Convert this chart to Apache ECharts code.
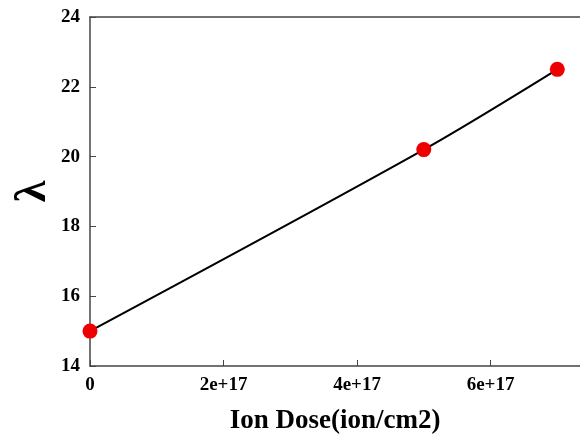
<!DOCTYPE html>
<html>
<head>
<meta charset="utf-8">
<script src="https://cdn.jsdelivr.net/npm/echarts@6/dist/echarts.min.js"></script>
<style>
  html, body { margin: 0; padding: 0; background: #fff; }
  #main { width: 580px; height: 439px; }
</style>
</head>
<body>
<div id="main"></div>
<script>
var doses = [0, 5e17, 7e17];
var lambdas = [15.0, 20.2, 22.5];
var xTicks = ['0', '2e+17', '4e+17', '6e+17'];

var chartDom = document.getElementById('main');
var myChart = echarts.init(chartDom);
var font = 'Liberation Serif';
var axisColor = '#444';

var points = doses.map(function (d, i) { return [d, lambdas[i]]; });

var option = {
  animation: false,
  grid: { left: 90, top: 17, right: 0, bottom: 73, containLabel: false, outerBoundsMode: 'none' },
  xAxis: [
    {
      type: 'value',
      min: 0,
      max: 7.34e17,
      interval: 2e17,
      name: 'Ion Dose(ion/cm2)',
      nameLocation: 'middle',
      nameGap: 42,
      nameTextStyle: { fontFamily: font, fontWeight: 'bold', fontSize: 27, color: '#000' },
      axisLine: { lineStyle: { color: axisColor, width: 1.5 } },
      axisTick: { inside: true, length: 6, lineStyle: { color: axisColor } },
      splitLine: { show: false },
      axisLabel: {
        margin: 10,
        showMaxLabel: false,
        fontFamily: font, fontWeight: 'bold', fontSize: 19, color: '#000',
        formatter: function (v) {
          var idx = Math.round(v / 2e17);
          return xTicks[idx] || '';
        }
      }
    },
    {
      type: 'value',
      position: 'top',
      min: 0,
      max: 7.34e17,
      axisLine: { show: true, onZero: false, lineStyle: { color: axisColor, width: 1.5 } },
      axisTick: { show: false },
      axisLabel: { show: false },
      splitLine: { show: false }
    }
  ],
  yAxis: {
    type: 'value',
    min: 14,
    max: 24,
    interval: 2,
    name: 'λ',
    nameLocation: 'middle',
    nameGap: 34,
    nameMoveOverlap: false,
    nameRotate: 90,
    nameTextStyle: { fontFamily: font, fontWeight: 'bold', fontSize: 44, color: '#000' },
    axisLine: { show: true, lineStyle: { color: axisColor, width: 1.5 } },
    axisTick: { inside: true, length: 6, lineStyle: { color: axisColor } },
    splitLine: { show: false },
    axisLabel: { margin: 10, fontFamily: font, fontWeight: 'bold', fontSize: 19, color: '#000' }
  },
  series: [
    {
      type: 'line',
      data: points,
      smooth: 0.3,
      symbol: 'circle',
      symbolSize: 15,
      itemStyle: { color: '#ee0000' },
      lineStyle: { color: '#000', width: 2 },
      z: 3
    }
  ]
};

option && myChart.setOption(option);
</script>
</body>
</html>
